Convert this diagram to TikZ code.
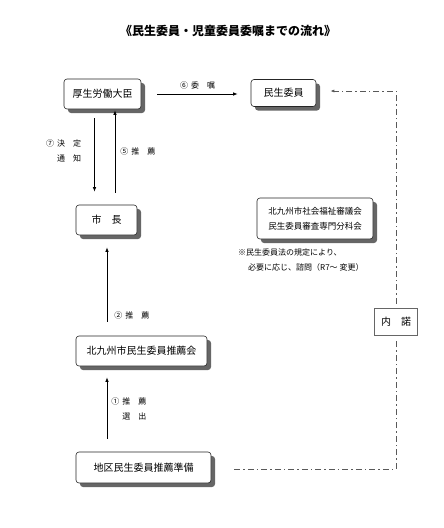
\documentclass[tikz,border=0pt]{standalone}
\usepackage{fontspec}
\setmainfont{Noto Sans CJK JP}
\usetikzlibrary{arrows.meta}
\tikzset{
    rbox/.style={draw=black!85,fill=white,rounded corners=3pt,semithick,
        preaction={fill=black!60,transform canvas={xshift=4pt,yshift=-4pt}},
        inner sep=0pt,font=\fontsize{10}{12}\selectfont},
    sbox/.style={draw=black!60,fill=white,semithick,inner sep=0pt,font=\fontsize{10}{12}\selectfont},
    flow/.style={-{Latex[length=4.5pt,width=3.5pt]},thick},
    chain/.style={black!65,line width=1pt,dash pattern=on 6pt off 3pt on 1.5pt off 3pt},
    lbl/.style={font=\fontsize{8}{15}\selectfont,inner sep=0pt}
}
\newcommand{\gap}{\hspace{3pt}}

\begin{document}
\begin{tikzpicture}[x=1pt,y=-1pt]
        \useasboundingbox (0,0) rectangle (444,528);
        \node[font=\bfseries\fontsize{12}{14}\selectfont] (title) at (228,31) {《民生委員・児童委員委嘱までの流れ》};

        \node[rbox,minimum width=77pt,minimum height=30pt] (minister) at (102.5,94) {厚生労働大臣};
        \node[rbox,minimum width=65pt,minimum height=27pt] (iin) at (283.5,93) {民生委員};
        \node[rbox,minimum width=61pt,minimum height=30pt] (mayor) at (106.5,220) {市　長};
        \node[rbox,minimum width=116pt,minimum height=41pt,align=center,font=\fontsize{8.5}{15}\selectfont] (council) at (315,218.5) {北九州市社会福祉審議会\\民生委員審査専門分科会};
        \node[rbox,minimum width=131pt,minimum height=30pt] (suisenkai) at (141.5,351) {北九州市民生委員推薦会};
        \node[rbox,minimum width=135pt,minimum height=31pt] (junbi) at (143.5,467.5) {地区民生委員推薦準備};
        \node[sbox,minimum width=43pt,minimum height=27pt] (naidaku) at (396,321.5) {内　諾};

        \node[lbl,align=left,anchor=west] (note) at (238,260.5) {※民生委員法の規定により、\\\hspace*{10pt}必要に応じ、諮問（R7～ 変更）};

        \draw[flow] ([xshift=16pt]minister.east) -- ([xshift=-13pt]iin.west |- minister.east)
            node[lbl,midway,above=4pt] (l6) {⑥\gap 委　嘱};
        \draw[flow] ([xshift=-8pt,yshift=-9pt]minister.south) -- ([xshift=-12pt,yshift=13pt]mayor.north)
            node[lbl,midway,align=right,anchor=east,xshift=-13pt,yshift=4pt] (l7) {⑦\gap 決　定\\通　知};
        \draw[flow] ([xshift=8.5pt,yshift=12pt]mayor.north) -- ([xshift=12.5pt,yshift=-1pt]minister.south)
            node[lbl,midway,anchor=west,xshift=5pt,yshift=0pt] (l5) {⑤\gap 推　薦};
        \draw[flow] ([xshift=-34.5pt,yshift=14pt]suisenkai.north) -- ([xshift=0.5pt,yshift=-12pt]mayor.south)
            node[lbl,pos=0.08,anchor=west,xshift=7pt] (l2) {②\gap 推　薦};
        \draw[flow] ([xshift=-36.5pt,yshift=13pt]junbi.north) -- ([xshift=-34.5pt,yshift=-11pt]suisenkai.south)
            node[lbl,midway,align=right,anchor=west,xshift=4pt,yshift=-1pt] (l1) {①\gap 推　薦\\選　出};

        \draw[chain,shorten >=4pt] ([xshift=23pt,yshift=-1.5pt]junbi.east) -| (naidaku.south);
        \draw[chain,shorten <=4pt,shorten >=14pt,-{Latex[length=4pt,width=3pt]}] (naidaku.north) |- ([yshift=2pt]iin.east);
    \end{tikzpicture}
\end{document}
